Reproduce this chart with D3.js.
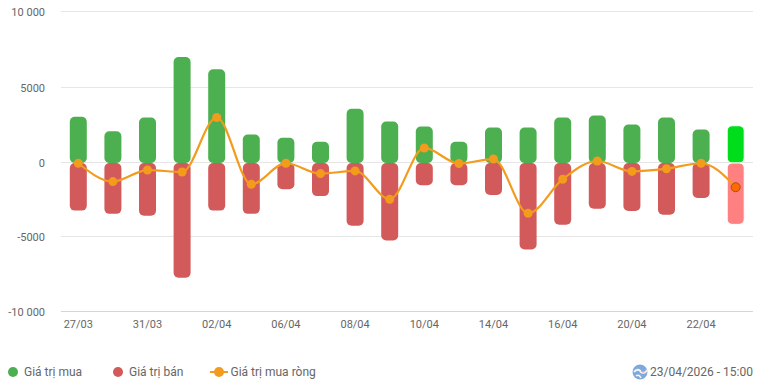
<!DOCTYPE html>
<html>
<head>
<meta charset="utf-8">
<script src="https://cdn.jsdelivr.net/npm/d3@7"></script>
<style>
    html, body { margin: 0; padding: 0; background: #fff; }
    svg { display: block; }
    text { font-family: Roboto, sans-serif; }
    .axis text { font-size: 11px; fill: #666; }
    .legend text { font-size: 12px; fill: #666; }
</style>
</head>
<body>
<div id="chart"></div>
<script>
// Buy / sell / net value chart, one column pair per session

const dates = ['27/03', '30/03', '31/03', '01/04', '02/04', '03/04', '06/04', '07/04', '08/04', '09/04',
    '10/04', '13/04', '14/04', '15/04', '16/04', '17/04', '20/04', '21/04', '22/04', '23/04'];
const buyValues = [3050, 2080, 3000, 7000, 6200, 1870, 1650, 1380, 3580, 2730,
    2400, 1380, 2330, 2330, 3000, 3130, 2530, 3000, 2200, 2450];
const sellValues = [-3250, -3470, -3600, -7750, -3250, -3470, -1800, -2270, -4270, -5270,
    -1530, -1530, -2200, -5870, -4200, -3130, -3270, -3530, -2400, -4180];
const netValues = [-50, -1290, -510, -640, 3000, -1470, -50, -750, -570, -2480,
    970, -70, 230, -3430, -1130, 100, -600, -420, -50, -1670];
const yTicks = [10000, 5000, 0, -5000, -10000];
const yTickLabels = ['10 000', '5000', '0', '-5000', '-10 000'];
const xTickLabels = ['27/03', '31/03', '02/04', '06/04', '08/04', '10/04', '14/04', '16/04', '20/04', '22/04'];
const legendLabels = ['Giá trị mua', 'Giá trị bán', 'Giá trị mua ròng'];
const timestamp = '23/04/2026 - 15:00';

const COLORS = { buy: '#4caf50', sell: '#d35a5a', net: '#f29b1d', grid: '#e6e6e6', axis: '#ccd6eb' };
const HOVER = { buy: '#00dd1a', sell: '#ff8080', net: '#ff6a00' };

const width = 761;
const height = 387;
const plotLeft = 61;
const plotRight = 753;
const barWidth = 17;

const svg = d3.select('#chart').append('svg')
    .attr('width', width)
    .attr('height', height);

// Scales
const x = d3.scaleBand()
    .domain(dates)
    .range([plotLeft, plotRight]);

// grid rows in the original are pixel-snapped, so not quite evenly spaced
const y = d3.scaleLinear()
    .domain(yTicks)
    .range([11.5, 87.5, 162.5, 236.5, 311.5]);

const xCenter = d => x(d) + x.bandwidth() / 2;
const lastDate = dates[dates.length - 1];

// Axes
const yAxis = d3.axisLeft(y)
    .tickValues(yTicks)
    .tickSize(0)
    .tickPadding(16)
    .tickFormat((d, i) => yTickLabels[i]);

svg.append('g')
    .attr('class', 'axis y-axis')
    .attr('transform', `translate(${plotLeft},0)`)
    .call(yAxis)
    .call(g => g.select('.domain').remove());

// Grid
svg.append('g')
    .selectAll('line')
    .data(yTicks)
    .enter()
    .append('line')
    .attr('x1', plotLeft)
    .attr('x2', plotRight)
    .attr('y1', d => y(d))
    .attr('y2', d => y(d))
    .attr('stroke', d => d === -10000 ? COLORS.axis : COLORS.grid)
    .attr('stroke-width', 1);

const xAxis = d3.axisBottom(x)
    .tickValues(xTickLabels)
    .tickSize(0)
    .tickPadding(9);

svg.append('g')
    .attr('class', 'axis x-axis')
    .attr('transform', `translate(0,${y(-10000)})`)
    .call(xAxis)
    .call(g => g.select('.domain').remove());

// Columns
const bars = (values, name, top) => {
    svg.append('g')
        .selectAll('rect')
        .data(dates)
        .enter()
        .append('rect')
        .attr('x', d => xCenter(d) - barWidth / 2)
        .attr('y', (d, i) => top ? y(values[i]) : y(0) + 0.5)
        .attr('width', barWidth)
        .attr('height', (d, i) => Math.abs(y(values[i]) - y(0)) + (top ? 0.5 : -0.5))
        .attr('rx', 5)
        .attr('fill', d => d === lastDate ? HOVER[name] : COLORS[name])
        .attr('stroke', d => d === lastDate ? '#fff' : 'none')
        .attr('stroke-width', 1);
};
bars(buyValues, 'buy', true);
bars(sellValues, 'sell', false);

// Net line
const line = d3.line()
    .x(d => xCenter(d))
    .y((d, i) => y(netValues[i]))
    .curve(d3.curveMonotoneX);

svg.append('path')
    .datum(dates)
    .attr('fill', 'none')
    .attr('stroke', COLORS.net)
    .attr('stroke-width', 2.2)
    .attr('d', line);

svg.append('g')
    .selectAll('circle')
    .data(dates)
    .enter()
    .append('circle')
    .attr('cx', d => xCenter(d))
    .attr('cy', (d, i) => y(netValues[i]))
    .attr('r', 4.5)
    .attr('fill', d => d === lastDate ? HOVER.net : COLORS.net)
    .attr('stroke', d => d === lastDate ? '#a8511a' : 'none')
    .attr('stroke-width', 1);

// Legend
const legend = svg.append('g').attr('class', 'legend');
const legendY = 372;

legend.append('circle').attr('cx', 13).attr('cy', legendY).attr('r', 5).attr('fill', COLORS.buy);
legend.append('text').attr('x', 24).attr('y', legendY + 4).text(legendLabels[0]);

legend.append('circle').attr('cx', 118).attr('cy', legendY).attr('r', 5).attr('fill', COLORS.sell);
legend.append('text').attr('x', 129).attr('y', legendY + 4).text(legendLabels[1]);

legend.append('line')
    .attr('x1', 210).attr('x2', 228)
    .attr('y1', legendY).attr('y2', legendY)
    .attr('stroke', COLORS.net).attr('stroke-width', 2);
legend.append('circle').attr('cx', 219).attr('cy', legendY).attr('r', 5).attr('fill', COLORS.net);
legend.append('text').attr('x', 230.5).attr('y', legendY + 4).text(legendLabels[2]);

// Timestamp with globe icon
const icon = svg.append('g').attr('transform', `translate(640,${legendY})`);
icon.append('circle').attr('r', 7.5).attr('fill', '#7fa9dc');
icon.append('path')
    .attr('d', 'M-6,0 C-3,-4 0,-2 1,0 C3,2 6,0 7,-2')
    .attr('fill', 'none').attr('stroke', '#f4f4f4').attr('stroke-width', 2);
icon.append('path')
    .attr('d', 'M1,-1 C3,1 5,0 6,-2')
    .attr('fill', 'none').attr('stroke', '#ee9a8e').attr('stroke-width', 1);
icon.append('path')
    .attr('d', 'M-4,4 C-2,2 0,4 1,6')
    .attr('fill', 'none').attr('stroke', '#f4f4f4').attr('stroke-width', 1.5);

legend.append('text')
    .attr('x', 753)
    .attr('y', legendY + 4)
    .attr('text-anchor', 'end')
    .text(timestamp);
</script>
</body>
</html>
